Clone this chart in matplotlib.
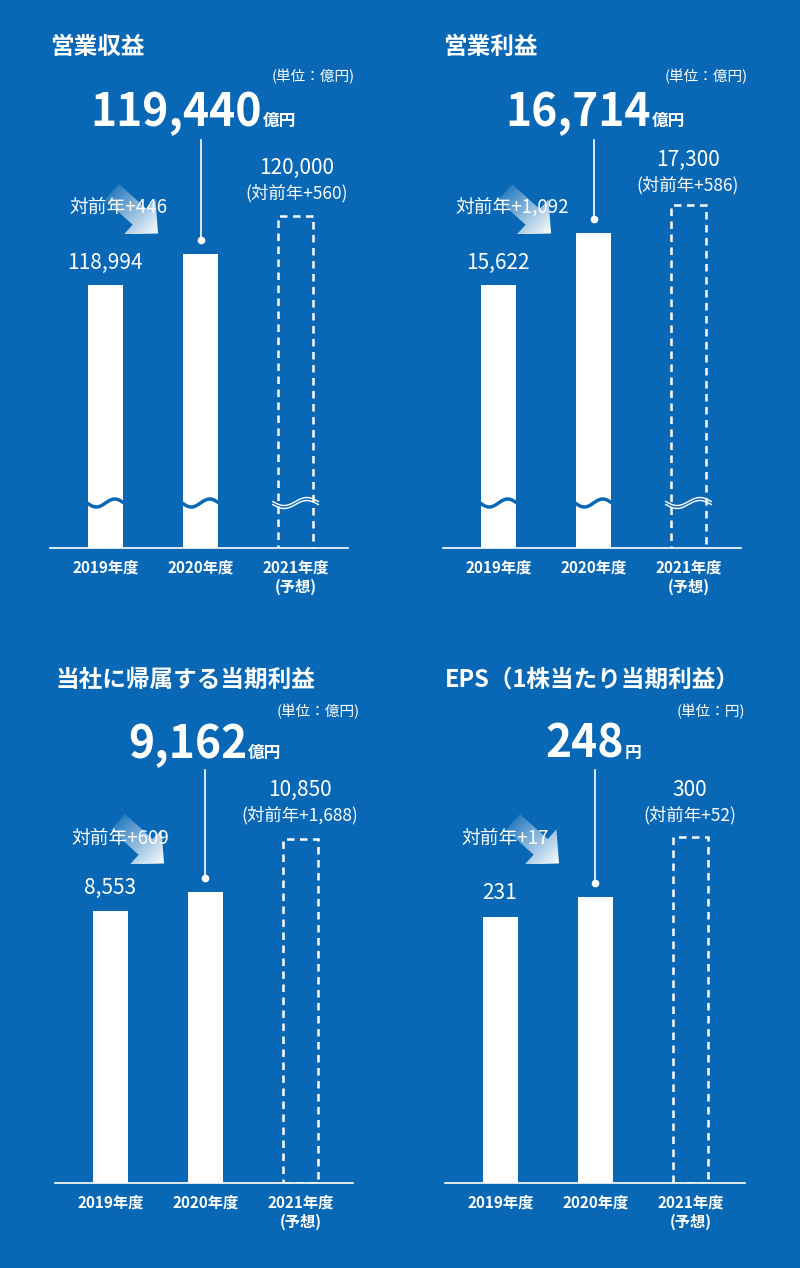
import matplotlib
matplotlib.use("Agg")
import matplotlib.pyplot as plt
import numpy as np
from matplotlib.colors import LinearSegmentedColormap
from matplotlib.patches import Polygon

plt.rcParams["font.family"] = ["Noto Sans CJK JP", "DejaVu Sans"]

BG = "#0868b6"
W, H = 800, 1268

titles = ["営業収益", "営業利益", "当社に帰属する当期利益", "EPS（1株当たり当期利益）"]
units = ["(単位：億円)", "(単位：億円)", "(単位：億円)", "(単位：円)"]
suffix = ["億円", "億円", "億円", "円"]
years = ["2019年度", "2020年度", "2021年度\n(予想)"]
values = [
    [118994, 119440, 120000],
    [15622, 16714, 17300],
    [8553, 9162, 10850],
    [231, 248, 300],
]
yoy = ["+446", "+1,092", "+609", "+17"]
fc_yoy = ["+560", "+586", "+1,688", "+52"]
# bottom of axis (value) and value per pixel; top panels are broken axes
axis_lo = [115180, 10099, 0, 0]
per_px = [14.5, 21.0, 31.5, 0.867]
broken = [True, True, False, False]

# layout in pixels: (axis left, axis right, baseline, title y, offset x)
layout = [
    dict(l=50, r=348, base=548, ty=47, uy=77, big=(90, 113), lead=201, lead_top=140,
         arrow=(112, 192), yoy_x=118, yoy_y=207, v0=(105, 263), fc=(297, 168)),
    dict(l=443, r=741, base=548, ty=47, uy=77, big=(505, 113), lead=594, lead_top=140,
         arrow=(505, 192), yoy_x=512, yoy_y=207, v0=(498, 263), fc=(688, 160)),
    dict(l=55, r=353, base=1183, ty=680, uy=712, big=(128, 745), lead=205, lead_top=770,
         arrow=(118, 822), yoy_x=120, yoy_y=838, v0=(110, 888), fc=(300, 790)),
    dict(l=445, r=745, base=1183, ty=680, uy=712, big=(545, 745), lead=595, lead_top=770,
         arrow=(513, 822), yoy_x=505, yoy_y=838, v0=(500, 893), fc=(690, 790)),
]
unit_right = [355, 748, 360, 745]

fig = plt.figure(figsize=(W / 100, H / 100), dpi=100, facecolor=BG)
ov = fig.add_axes([0, 0, 1, 1], zorder=5)
ov.set_xlim(0, W)
ov.set_ylim(H, 0)
ov.axis("off")
ov.patch.set_alpha(0)

cmap = LinearSegmentedColormap.from_list("g", [BG, "white"])
spacing = 95.0
bar_w = 35 / spacing
ax_h = 420

for i in range(4):
    L = layout[i]
    vals = values[i]
    ax = fig.add_axes([L["l"] / W, 1 - L["base"] / H, (L["r"] - L["l"]) / W, ax_h / H])
    ax.set_facecolor("none")
    x = np.arange(3)
    x0 = 55.5 / spacing
    ax.set_xlim(-x0, (L["r"] - L["l"]) / spacing - x0)
    lo = axis_lo[i]
    ax.set_ylim(lo, lo + ax_h * per_px[i])
    ax.bar(x[:2], vals[:2], width=bar_w, color="white")
    ax.bar(x[2], vals[2], width=bar_w, fill=False, edgecolor="white",
           linestyle=(0, (3, 2.2)), linewidth=1.8)
    for s in ["top", "right", "left"]:
        ax.spines[s].set_visible(False)
    ax.spines["bottom"].set_color("white")
    ax.spines["bottom"].set_linewidth(1.2)
    ax.set_yticks([])
    ax.set_xticks(x)
    ax.set_xticklabels(years, color="white", fontsize=11, fontweight="bold",
                       linespacing=1.25, va="top")
    ax.tick_params(axis="x", length=0, pad=8)

    if broken[i]:
        wy = lo + 45 * per_px[i]
        amp = 4 * per_px[i]
        t = np.linspace(-0.5, 0.5, 60)
        for k in range(2):
            ax.plot(x[k] + t * bar_w * 1.05, wy + amp * np.sin(t * 2 * np.pi),
                    color=BG, lw=2.5, clip_on=False)
        for off in (-1.5, 1.5):
            ax.plot(x[2] + t * bar_w * 1.3, wy + off * per_px[i] + amp * np.sin(t * 2 * np.pi),
                    color="white", lw=1.0, clip_on=False)

    # texts
    ov.text(L["l"], L["ty"], titles[i], color="white", fontsize=17, fontweight="bold",
            va="center", ha="left")
    ov.text(unit_right[i], L["uy"], units[i], color="white", fontsize=10.5,
            va="center", ha="right")
    bx, by = L["big"]
    big = ov.text(bx, by, f"{vals[1]:,}", color="white", fontsize=32, fontweight="bold",
                  va="center", ha="left")
    fig.canvas.draw()
    bb = big.get_window_extent().transformed(ov.transData.inverted())
    ov.text(bb.x1 + 1, by + 8, suffix[i], color="white", fontsize=12, fontweight="bold",
            va="center", ha="left")

    top_px = L["base"] - (vals[1] - lo) / per_px[i]
    ov.plot([L["lead"], L["lead"]], [L["lead_top"], top_px - 14], color="white", lw=1.2)
    ov.plot(L["lead"], top_px - 14, "o", color="white", ms=4.5)

    ov.text(L["yoy_x"], L["yoy_y"], "対前年" + yoy[i], color="white", fontsize=13.5,
            va="center", ha="center")
    ov.text(L["v0"][0], L["v0"][1], f"{vals[0]:,}", color="white", fontsize=15,
            va="center", ha="center")
    fx, fy = L["fc"]
    ov.text(fx, fy, f"{vals[2]:,}", color="white", fontsize=15, va="center", ha="center")
    ov.text(fx, fy + 25, f"(対前年{fc_yoy[i]})", color="white", fontsize=12.5,
            va="center", ha="center")

    # gradient arrow
    ax0, ay0 = L["arrow"]
    shape = np.array([[0, -0.17], [0.6, -0.17], [0.6, -0.38], [1.0, 0],
                      [0.6, 0.38], [0.6, 0.17], [0, 0.17]])
    ang = np.deg2rad(42)
    rot = np.array([[np.cos(ang), np.sin(ang)], [-np.sin(ang), np.cos(ang)]])
    pts = shape @ rot * 62 + [ax0, ay0]
    poly = Polygon(pts, closed=True, facecolor="none", edgecolor="none")
    ov.add_patch(poly)
    xs = np.linspace(0, 1, 100)
    grad = (xs[None, :] + (1 - xs[::-1, None])) / 2
    im = ov.imshow(grad, cmap=cmap, extent=(pts[:, 0].min(), pts[:, 0].max(),
                                            pts[:, 1].max(), pts[:, 1].min()),
                   aspect="auto", origin="upper", vmin=0, vmax=1)
    im.set_clip_path(poly)

ov.set_xlim(0, W)
ov.set_ylim(H, 0)
fig.savefig("out.png", dpi=100, facecolor=BG)
